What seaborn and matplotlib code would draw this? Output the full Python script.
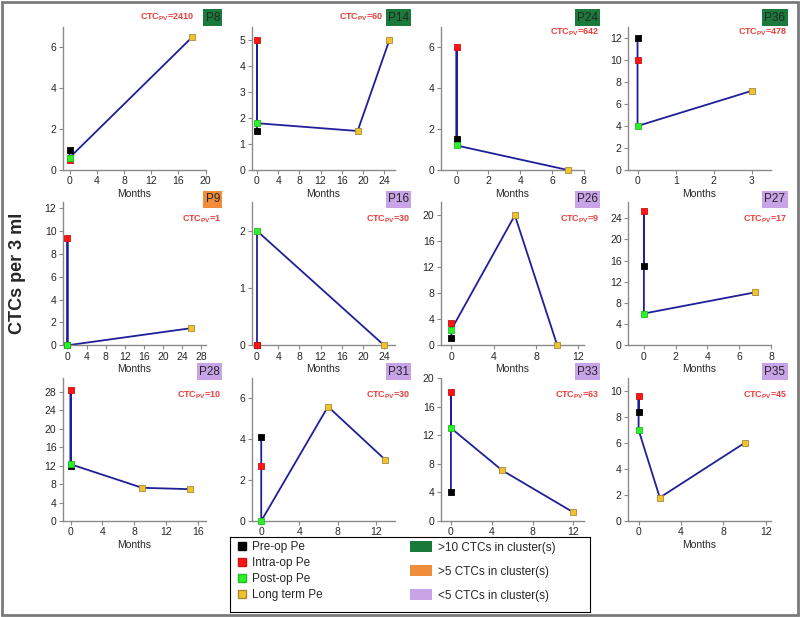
import numpy as np
import pandas as pd
import matplotlib
matplotlib.use('Agg')
import matplotlib.pyplot as plt
import seaborn as sns
from matplotlib.lines import Line2D
from matplotlib.patches import Patch, Rectangle
from matplotlib.ticker import MultipleLocator

# patients, in panel order (row by row)
patients = ["P8", "P14", "P24", "P36",
            "P9", "P16", "P26", "P27",
            "P28", "P31", "P33", "P35"]
pre_op = [1.0, 1.5, 1.5, 12, 0, 0, 1.2, 15, 11.9, 4.1, 4, 8.4]
intra_op = [0.5, 5.0, 6.0, 10, 9.4, 0, 3.4, 25.3, 28.5, 2.7, 18, 9.6]
post_op = [0.6, 1.8, 1.2, 4, 0, 2, 2.4, 6, 12.3, 0, 13, 7]
long_months = [[18], [19, 25], [7], [3],
               [26], [24], [6, 10], [7],
               [9, 15], [7, 13], [5, 12], [2, 10]]
long_values = [[6.5], [1.5, 5.0], [0], [7.2],
               [1.5], [0], [20, 0], [10],
               [7.2, 6.9], [5.6, 3.0], [7.1, 1.2], [1.8, 6]]
ctc_pv = [2410, 60, 642, 478, 1, 30, 9, 17, 10, 30, 63, 45]
cluster = [">10", ">10", ">10", ">10",
           ">5", "<5", "<5", "<5",
           "<5", "<5", "<5", "<5"]

# axis ranges and tick steps per panel
x_max = [20, 26, 8, 3.5, 29, 26, 12.5, 8, 17, 14, 13, 12.5]
x_step = [4, 4, 2, 1, 4, 4, 4, 2, 4, 4, 4, 4]
y_max = [7, 5.5, 7, 13, 12.5, 2.5, 22, 27, 31, 7, 20, 11]
y_step = [2, 1, 2, 2, 2, 1, 4, 4, 4, 2, 4, 2]

stage_names = ["Pre-op Pe", "Intra-op Pe", "Post-op Pe", "Long term Pe"]
stage_colors = ["#000000", "#ff1414", "#2cf02c", "#f2c12e"]
stage_edges = ["#000000", "#d01010", "#20c020", "#a88a3a"]
cluster_names = [">10 CTCs in cluster(s)", ">5 CTCs in cluster(s)", "<5 CTCs in cluster(s)"]
cluster_colors = {">10": "#1a7a3c", ">5": "#f08c3a", "<5": "#c9a3e8"}
line_color = "#1f1f9a"

sns.set_style("ticks")
plt.rcParams['font.family'] = ['Liberation Sans', 'DejaVu Sans']
plt.rcParams['mathtext.fontset'] = 'custom'
plt.rcParams['mathtext.rm'] = 'Liberation Sans'
plt.rcParams['mathtext.bf'] = 'Liberation Sans:bold'

fig = plt.figure(figsize=(8, 6.17), dpi=100)

lefts = [62.7 / 800, 251.7 / 800, 440.7 / 800, 628 / 800]
bottoms = [447 / 617, 271.7 / 617, 96 / 617]
w, h = 143 / 800, 143 / 617

for i, p in enumerate(patients):
    r, c = divmod(i, 4)
    ax = fig.add_axes([lefts[c], bottoms[r], w, h])

    xs = [0, 0, 0] + long_months[i]
    ys = [pre_op[i], intra_op[i], post_op[i]] + long_values[i]
    stage = stage_names[:3] + [stage_names[3]] * len(long_months[i])
    df = pd.DataFrame({"month": xs, "ctc": ys, "stage": stage})

    sns.lineplot(data=df, x="month", y="ctc", sort=False, estimator=None,
                 color=line_color, lw=1.3, ax=ax)
    for k, s in enumerate(stage_names):
        sub = df[df.stage == s]
        sns.scatterplot(data=sub, x="month", y="ctc", marker="s", s=24,
                        color=stage_colors[k], edgecolor=stage_edges[k],
                        linewidth=0.6, ax=ax, zorder=3, clip_on=False)

    ax.set_xlim(-x_step[i] / 4 if x_step[i] < 2 else -1, x_max[i])
    ax.set_ylim(0, y_max[i])
    ax.xaxis.set_major_locator(MultipleLocator(x_step[i]))
    ax.yaxis.set_major_locator(MultipleLocator(y_step[i]))
    # the legend box covers the labels of the two middle bottom panels
    if r == 2 and c in (1, 2):
        ax.set_xlabel("")
    else:
        ax.set_xlabel("Months", fontsize=7.5, labelpad=2)
    ax.set_ylabel("")
    ax.tick_params(labelsize=7.5, length=3, width=0.8, color="#888888", pad=1.5)
    for sp in ["left", "bottom"]:
        ax.spines[sp].set_color("#8a8a8a")
        ax.spines[sp].set_linewidth(1.0)
    sns.despine(ax=ax)

    by = 1.065 if r == 0 else (1.02 if r == 1 else 1.045)
    ax.text(1.1, by, p, transform=ax.transAxes, ha="right", va="center",
            fontsize=8.5,
            bbox=dict(boxstyle="square,pad=0.2", fc=cluster_colors[cluster[i]], ec="none"))
    label = r"CTC$_{\mathbf{PV}}$=" + str(ctc_pv[i])
    if r == 0 and c < 2:
        ax.text(0.92, by, label, transform=ax.transAxes, ha="right", va="center",
                fontsize=6.5, fontweight="bold", color="#e8403c")
    else:
        cy = 0.965 if r == 0 else 0.88
        ax.text(1.11, cy, label, transform=ax.transAxes, ha="right", va="center",
                fontsize=6.5, fontweight="bold", color="#e8403c")

fig.text(0.022, 0.557, "CTCs per 3 ml", rotation=90, ha="center", va="center",
         fontsize=13, fontweight="bold")

# legend box
lax = fig.add_axes([230 / 800, 5 / 617, 360 / 800, 75 / 617], zorder=10)
lax.set_facecolor("white")
lax.set_xticks([])
lax.set_yticks([])
for sp in lax.spines.values():
    sp.set_color("black")
    sp.set_linewidth(0.8)
h1 = [Line2D([], [], ls="", marker="s", markersize=6, color=col, markeredgecolor=ec)
      for col, ec in zip(stage_colors, stage_edges)]
leg1 = lax.legend(h1, stage_names, loc="upper left", bbox_to_anchor=(0.0, 1.04),
                  frameon=False, fontsize=8.5, handlelength=0.8, handletextpad=0.5,
                  labelspacing=0.35, borderaxespad=0.2)
lax.add_artist(leg1)
h2 = [Patch(fc=cluster_colors[k], ec="none") for k in [">10", ">5", "<5"]]
lax.legend(h2, cluster_names, loc="upper left", bbox_to_anchor=(0.48, 1.04),
           frameon=False, fontsize=8.5, handlelength=1.9, handleheight=1.1,
           handletextpad=0.5, labelspacing=0.95, borderaxespad=0.2)

fig.patches.append(Rectangle((0.002, 0.003), 0.996, 0.994, transform=fig.transFigure,
                             fill=False, ec="#7a7a7a", lw=2))

fig.savefig("out.png", dpi=100)
